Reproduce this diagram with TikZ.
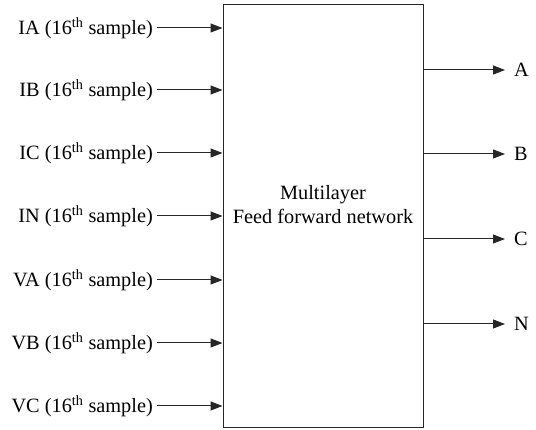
\documentclass[tikz,border=0pt]{standalone}
\usepackage{fontspec}
\setmainfont{Liberation Serif}
\usetikzlibrary{arrows.meta}
\begin{document}
\begin{tikzpicture}[x=1pt,y=-1pt,
  every node/.style={font=\fontsize{20.3}{24}\selectfont},
  inlabel/.style={anchor=east,inner xsep=4pt,inner ysep=0pt},
  outlabel/.style={anchor=west,inner sep=0pt},
  conn/.style={draw=black!85,line width=1pt,-{Triangle[length=12pt,width=9pt]}},
  netbox/.style={draw=black!85,line width=1pt,minimum width=200pt,minimum height=423pt,inner sep=0pt,align=center}]
\useasboundingbox (0,0) rectangle (536,430);
\node[netbox] (box) at (323,216.5) {};
\node[align=center] (title) at (323,205) {Multilayer\\Feed forward network};
\node[inlabel] (ia) at (157,28) {IA (16\textsuperscript{th} sample)};
\node[inlabel] (ib) at (157,90) {IB (16\textsuperscript{th} sample)};
\node[inlabel] (ic) at (157,153) {IC (16\textsuperscript{th} sample)};
\node[inlabel] (in) at (157,216) {IN (16\textsuperscript{th} sample)};
\node[inlabel] (va) at (157,280) {VA (16\textsuperscript{th} sample)};
\node[inlabel] (vb) at (157,343) {VB (16\textsuperscript{th} sample)};
\node[inlabel] (vc) at (157,406) {VC (16\textsuperscript{th} sample)};
\foreach \n in {ia,ib,ic,in,va,vb,vc}
  \draw[conn] (\n.east) -- (\n.east -| box.west);
\node[outlabel] (oa) at (514,70) {A};
\node[outlabel] (ob) at (514,154) {B};
\node[outlabel] (oc) at (514,239) {C};
\node[outlabel] (on) at (514,324) {N};
\foreach \n in {oa,ob,oc,on}
  \draw[conn] (box.east |- \n.west) -- ([xshift=-9pt]\n.west);
\end{tikzpicture}
\end{document}
